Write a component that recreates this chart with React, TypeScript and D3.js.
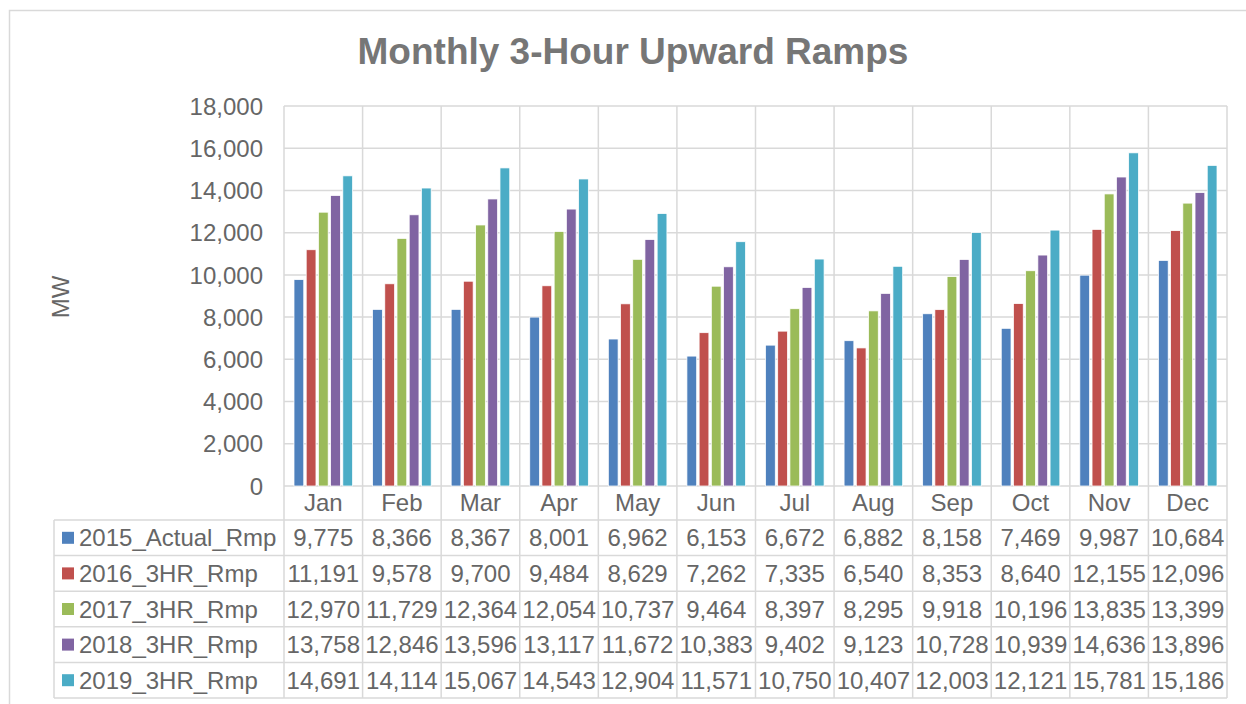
import React, { useEffect, useRef } from "react";
import * as d3 from "d3";

const months = ["Jan", "Feb", "Mar", "Apr", "May", "Jun", "Jul", "Aug", "Sep", "Oct", "Nov", "Dec"];
const seriesNames = ["2015_Actual_Rmp", "2016_3HR_Rmp", "2017_3HR_Rmp", "2018_3HR_Rmp", "2019_3HR_Rmp"];
const seriesColors = ["#4f81bd", "#c0504d", "#9bbb59", "#8064a2", "#4bacc6"];

const actual2015 = [9775, 8366, 8367, 8001, 6962, 6153, 6672, 6882, 8158, 7469, 9987, 10684];
const ramp2016 = [11191, 9578, 9700, 9484, 8629, 7262, 7335, 6540, 8353, 8640, 12155, 12096];
const ramp2017 = [12970, 11729, 12364, 12054, 10737, 9464, 8397, 8295, 9918, 10196, 13835, 13399];
const ramp2018 = [13758, 12846, 13596, 13117, 11672, 10383, 9402, 9123, 10728, 10939, 14636, 13896];
const ramp2019 = [14691, 14114, 15067, 14543, 12904, 11571, 10750, 10407, 12003, 12121, 15781, 15186];

const yTicks = [0, 2000, 4000, 6000, 8000, 10000, 12000, 14000, 16000, 18000];

const W = 1246, H = 704;

export default function App() {
  const ref = useRef<SVGSVGElement>(null);

  useEffect(() => {
    const svg = d3.select(ref.current);
    svg.selectAll("*").remove();

    const values = [actual2015, ramp2016, ramp2017, ramp2018, ramp2019];
    const grid = "#d9d9d9";
    const txt = "#666666";
    const font = "Liberation Sans, Arial, sans-serif";
    const fs = "24px";

    const left = 284, right = 1227, top = 106, zero = 486;
    const catRow = 520, rowH = 35.6, legendLeft = 54;
    const tableBottom = catRow + rowH * seriesNames.length;

    // chart frame
    svg.append("rect").attr("x", 9.5).attr("y", 10.5).attr("width", W).attr("height", H)
      .attr("fill", "white").attr("stroke", grid).attr("stroke-width", 1.5);

    svg.append("text").attr("x", 633).attr("y", 64).attr("text-anchor", "middle")
      .style("font-family", font).style("font-size", "37px").style("font-weight", "bold")
      .attr("fill", "#767676").text("Monthly 3-Hour Upward Ramps");

    const x0 = d3.scaleBand().domain(months).range([left, right]);
    const x1 = d3.scaleBand().domain(seriesNames).range([10, x0.bandwidth() - 10]).paddingInner(0.2);
    const y = d3.scaleLinear().domain([0, 18000]).range([zero, top]);

    // horizontal gridlines + tick labels
    svg.selectAll(".hgrid").data(yTicks).join("line").attr("class", "hgrid")
      .attr("x1", left).attr("x2", right).attr("y1", d => y(d)).attr("y2", d => y(d))
      .attr("stroke", grid).attr("stroke-width", 1.5);

    svg.selectAll(".ylab").data(yTicks).join("text").attr("class", "ylab")
      .attr("x", 263).attr("y", d => y(d)).attr("dy", "0.36em").attr("text-anchor", "end")
      .style("font-family", font).style("font-size", fs).attr("fill", txt)
      .text(d => d3.format(",")(d));

    svg.append("text").attr("transform", `translate(69, 297) rotate(-90)`).attr("text-anchor", "middle")
      .style("font-family", font).style("font-size", fs).attr("fill", txt).text("MW");

    // vertical lines: category boundaries through the table
    const bounds = months.map(m => x0(m) as number).concat([right]);
    svg.selectAll(".vgrid").data(bounds).join("line").attr("class", "vgrid")
      .attr("x1", d => d).attr("x2", d => d).attr("y1", top).attr("y2", tableBottom)
      .attr("stroke", grid).attr("stroke-width", 1.5);

    // table horizontal lines
    const rowLines = d3.range(seriesNames.length + 1).map(i => catRow + i * rowH);
    svg.selectAll(".rline").data(rowLines).join("line").attr("class", "rline")
      .attr("x1", legendLeft).attr("x2", right).attr("y1", d => d).attr("y2", d => d)
      .attr("stroke", grid).attr("stroke-width", 1.5);
    svg.append("line").attr("x1", legendLeft).attr("x2", legendLeft).attr("y1", catRow).attr("y2", tableBottom)
      .attr("stroke", grid).attr("stroke-width", 1.5);

    // bars
    seriesNames.forEach((s, si) => {
      svg.selectAll(`.bar${si}`).data(values[si]).join("rect").attr("class", `bar${si}`)
        .attr("x", (d, i) => (x0(months[i]) as number) + (x1(s) as number))
        .attr("y", d => y(d))
        .attr("width", x1.bandwidth())
        .attr("height", d => zero - y(d))
        .attr("fill", seriesColors[si])
        .attr("stroke", "white").attr("stroke-width", 0.75);
    });

    // category labels
    svg.selectAll(".xlab").data(months).join("text").attr("class", "xlab")
      .attr("x", d => (x0(d) as number) + x0.bandwidth() / 2).attr("y", 511).attr("text-anchor", "middle")
      .style("font-family", font).style("font-size", fs).attr("fill", txt).text(d => d);

    // table rows
    seriesNames.forEach((s, si) => {
      const cy = catRow + si * rowH + rowH / 2;
      svg.append("rect").attr("x", 62).attr("y", cy - 6).attr("width", 12).attr("height", 12)
        .attr("fill", seriesColors[si]);
      svg.append("text").attr("x", 79).attr("y", cy).attr("dy", "0.36em")
        .style("font-family", font).style("font-size", fs).attr("fill", txt).text(s);
      svg.selectAll(`.cell${si}`).data(values[si]).join("text").attr("class", `cell${si}`)
        .attr("x", (d, i) => (x0(months[i]) as number) + x0.bandwidth() / 2).attr("y", cy).attr("dy", "0.36em")
        .attr("text-anchor", "middle")
        .style("font-family", font).style("font-size", fs).attr("fill", txt)
        .text(d => d3.format(",")(d));
    });
  }, []);

  return <svg ref={ref} width={W} height={H} style={{ position: "absolute", left: 0, top: 0, background: "white" }} />;
}
